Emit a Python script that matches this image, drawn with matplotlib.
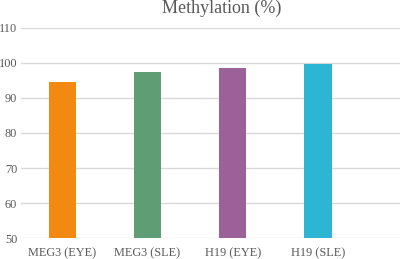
import matplotlib.pyplot as plt

categories = ["MEG3 (EYE)", "MEG3 (SLE)", "H19 (EYE)", "H19 (SLE)"]
values = [94.6, 97.3, 98.7, 99.7]
colors = ["#F28A12", "#5F9E74", "#9B6199", "#2DB6D4"]

plt.rcParams['font.family'] = ['Liberation Serif', 'DejaVu Serif']
text_color = "#595959"

fig = plt.figure(figsize=(4, 2.59), dpi=100)
ax = fig.add_axes([0.053, 0.081, 0.947, 0.811])

x = list(range(len(categories)))
ax.bar(x, values, width=0.32, color=colors, zorder=3)

ax.set_ylim(50, 110)
ax.set_yticks(range(50, 111, 10))
ax.set_xlim(-0.48, 3.96)
ax.set_xticks(x)
ax.set_xticklabels(categories)
ax.grid(axis='y', color='#d9d9d9', linewidth=1, zorder=0)
for s in ax.spines.values():
    s.set_visible(False)
ax.tick_params(axis='x', length=0, labelsize=8.8, colors=text_color, pad=7)
ax.tick_params(axis='y', length=0, labelsize=8.8, colors=text_color, pad=3)

fig.suptitle("Methylation (%)", fontsize=13, color=text_color, y=1.0, x=0.555)

fig.savefig("out.png", dpi=100)
